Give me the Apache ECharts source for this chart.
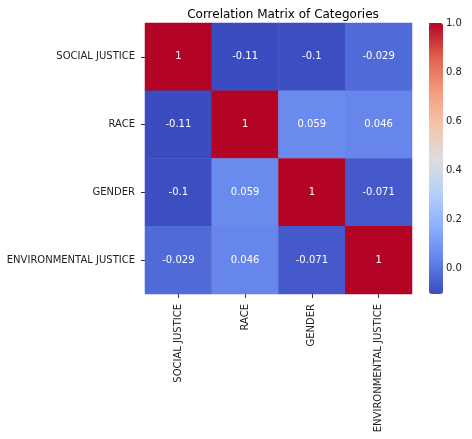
<!DOCTYPE html>
<html lang="en">
<head>
<meta charset="UTF-8">
<title>Correlation Matrix of Categories</title>
<script src="https://cdn.jsdelivr.net/npm/echarts@6/dist/echarts.min.js"></script>
<style>
  html, body { margin: 0; padding: 0; background: #fff; }
  #main { width: 472px; height: 439px; }
</style>
</head>
<body>
<div id="main"></div>
<script>
// categories (rows top to bottom, columns left to right)
var categories = ['SOCIAL JUSTICE', 'RACE', 'GENDER', 'ENVIRONMENTAL JUSTICE'];

// correlation rows, as printed in the cells
var rowSocialJustice = [1, -0.11, -0.1, -0.029];
var rowRace = [-0.11, 1, 0.059, 0.046];
var rowGender = [-0.1, 0.059, 1, -0.071];
var rowEnvJustice = [-0.029, 0.046, -0.071, 1];
var matrix = [rowSocialJustice, rowRace, rowGender, rowEnvJustice];

// colour bar range and tick labels
var colorMin = -0.105;
var colorMax = 1.0;
var colorTicks = [0.0, 0.2, 0.4, 0.6, 0.8, 1.0];

// coolwarm colormap samples
var coolwarm = ['#3b4cc0', '#6282ea', '#8db0fe', '#b8d0f9', '#dddddd',
                '#f5c4ac', '#f49a7b', '#de604d', '#b40426'];

var data = [];
matrix.forEach(function (row, i) {
    row.forEach(function (v, j) {
        data.push([j, i, v]);
    });
});

var font = 'DejaVu Sans';
var myChart = echarts.init(document.getElementById('main'));

var option = {
    animation: false,
    textStyle: { fontFamily: font },
    title: {
        text: 'Correlation Matrix of Categories',
        left: 278, top: 4, textAlign: 'center',
        textStyle: { fontFamily: font, fontSize: 12, fontWeight: 'normal', color: '#000' }
    },
    grid: [
        { left: 145, top: 23, width: 267, height: 271 },
        { left: 429, top: 23, width: 14, height: 271 }
    ],
    xAxis: [{
        type: 'category', gridIndex: 0,
        data: categories,
        axisLine: { show: false },
        axisTick: { show: true, alignWithLabel: true, length: 4, lineStyle: { color: '#333' } },
        axisLabel: { rotate: 90, margin: 10, fontSize: 10, color: '#222', fontFamily: font },
        splitArea: { show: false }
    }, {
        type: 'value', gridIndex: 1, show: false
    }],
    yAxis: [{
        type: 'category', gridIndex: 0,
        data: categories,
        inverse: true,
        axisLine: { show: false },
        axisTick: { show: true, alignWithLabel: true, length: 4, lineStyle: { color: '#333' } },
        axisLabel: { margin: 10, fontSize: 10, color: '#222', fontFamily: font }
    }, {
        type: 'value', gridIndex: 1, position: 'right',
        min: colorMin, max: colorMax,
        axisLine: { show: false },
        splitLine: { show: false },
        axisTick: { show: true, length: 4, customValues: colorTicks, lineStyle: { color: '#333' } },
        axisLabel: {
            customValues: colorTicks, margin: 3, fontSize: 10, color: '#222', fontFamily: font,
            formatter: function (v) { return v.toFixed(1); }
        }
    }],
    visualMap: {
        type: 'continuous',
        min: colorMin, max: colorMax,
        seriesIndex: 0,
        calculable: false,
        realtime: false,
        orient: 'vertical',
        left: 429, top: 23,
        padding: 0,
        itemWidth: 14, itemHeight: 271,
        text: null,
        showLabel: false,
        inRange: { color: coolwarm }
    },
    series: [{
        type: 'heatmap',
        xAxisIndex: 0, yAxisIndex: 0,
        data: data,
        label: {
            show: true, color: '#fff', fontSize: 10, fontFamily: font,
            formatter: function (p) { return String(p.value[2]); }
        },
        itemStyle: { borderWidth: 0 },
        emphasis: { disabled: true }
    }]
};

myChart.setOption(option);
</script>
</body>
</html>
